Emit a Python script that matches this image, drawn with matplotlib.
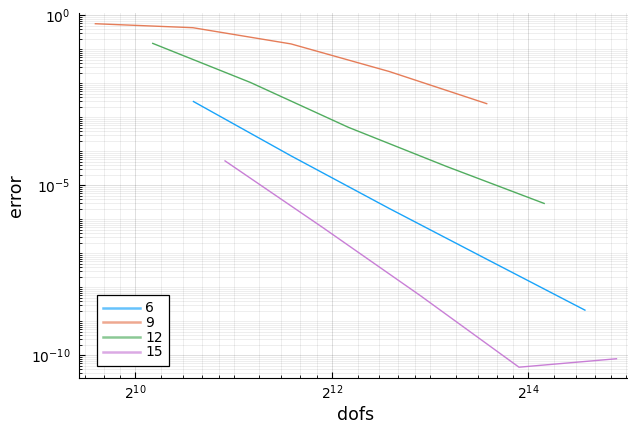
import numpy as np
import matplotlib
matplotlib.use("Agg")
import matplotlib.pyplot as plt
from matplotlib.ticker import FixedLocator, LogFormatterSciNotation, NullFormatter
from matplotlib.lines import Line2D

# ---------------- data ----------------
labels = ["6", "9", "12", "15"]
colors = ["#009AFA", "#E36F47", "#3EA44E", "#C371D2"]

dofs_6 = [1536, 3072, 6144, 12288, 24576]
err_6 = [3.0e-3, 7.4e-5, 2.1e-6, 6.6e-8, 2.1e-9]

dofs_9 = [768, 1536, 3072, 6144, 12288]
err_9 = [0.57, 0.435, 0.145, 0.0224, 0.0025]

dofs_12 = [1152, 2304, 4608, 9216, 18432]
err_12 = [0.153, 0.0107, 5.1e-4, 3.6e-5, 2.9e-6]

dofs_15 = [1920, 3840, 7680, 15360, 30720]
err_15 = [5.4e-5, 5.8e-7, 5.6e-9, 4.5e-11, 8.0e-11]

x_major = [2**10, 2**12, 2**14]
y_major = [1e0, 1e-5, 1e-10]

series_x = [dofs_6, dofs_9, dofs_12, dofs_15]
series_y = [err_6, err_9, err_12, err_15]

# ---------------- layout ----------------
W, H = 628, 423
fig = plt.figure(figsize=(W / 100, H / 100), dpi=100)

# limits: widen 3% in log space
lx = np.log2(np.concatenate([np.array(s, float) for s in series_x]))
ly = np.log10(np.concatenate([np.array(s, float) for s in series_y]))
ex = 0.03 * (lx.max() - lx.min())
ey = 0.03 * (ly.max() - ly.min())
xlo, xhi = lx.min() - ex, lx.max() + ex
ylo, yhi = ly.min() - ey, ly.max() + ey

px_oct = 98.175
px_dec = 34.0
left_px = 79.0
bottom_px = 377.5
w_px = (xhi - xlo) * px_oct
h_px = (yhi - ylo) * px_dec
ax = fig.add_axes([left_px / W, 1 - bottom_px / H, w_px / W, h_px / H])

for xs, ys, c, lab in zip(series_x, series_y, colors, labels):
    ax.plot(xs, ys, color=c, lw=1.0, alpha=0.9, label=lab, solid_capstyle="butt")

ax.set_xscale("log", base=2)
ax.set_yscale("log", base=10)
ax.set_xlim(2**xlo, 2**xhi)
ax.set_ylim(10**ylo, 10**yhi)

# minor ticks following Plots.jl scheme
xminor = []
for k in range(7, 17):
    lo = 2.0**k
    for f in (1.2, 1.4, 1.6, 1.8):
        xminor.append(lo * f)
    if k % 2 == 1:
        xminor.append(lo)
yminor = []
for d in range(-12, 2):
    for f in range(1, 10):
        v = f * 10.0**d
        if not (f == 1 and d % 5 == 0):
            yminor.append(v)

ax.xaxis.set_major_locator(FixedLocator(x_major))
ax.xaxis.set_minor_locator(FixedLocator(xminor))
ax.yaxis.set_major_locator(FixedLocator(y_major))
ax.yaxis.set_minor_locator(FixedLocator(yminor))
ax.xaxis.set_major_formatter(LogFormatterSciNotation(base=2))
ax.yaxis.set_major_formatter(LogFormatterSciNotation(base=10))
ax.xaxis.set_minor_formatter(NullFormatter())
ax.yaxis.set_minor_formatter(NullFormatter())

ax.grid(which="major", color="black", alpha=0.13, lw=0.7)
ax.grid(which="minor", color="black", alpha=0.065, lw=0.7)
ax.set_axisbelow(True)

for s in ("top", "right"):
    ax.spines[s].set_visible(False)
for s in ("left", "bottom"):
    ax.spines[s].set_color("black")
    ax.spines[s].set_linewidth(0.8)

ax.tick_params(which="major", direction="in", length=4.2, width=0.8,
               labelsize=10, color="black")
ax.tick_params(which="minor", direction="in", length=2.5, width=0.6, color="black")
ax.tick_params(axis="x", which="major", pad=4)
ax.tick_params(axis="y", which="major", pad=6)

ax.set_xlabel("dofs", fontsize=12.5, labelpad=3)
ax.set_ylabel("error", fontsize=12.5, labelpad=4)

handles = [Line2D([], [], color=c, lw=1.8, alpha=0.6) for c in colors]
leg = ax.legend(handles, labels, loc="lower left",
                bbox_to_anchor=((96.7 - left_px) / w_px, (bottom_px - 365.7) / h_px),
                borderaxespad=0, fontsize=10, frameon=True, fancybox=False,
                edgecolor="black", framealpha=1, handlelength=2.7,
                handletextpad=0.35, labelspacing=0.05, borderpad=0.45)
leg.get_frame().set_linewidth(0.9)

fig.savefig("out.png", dpi=100)
